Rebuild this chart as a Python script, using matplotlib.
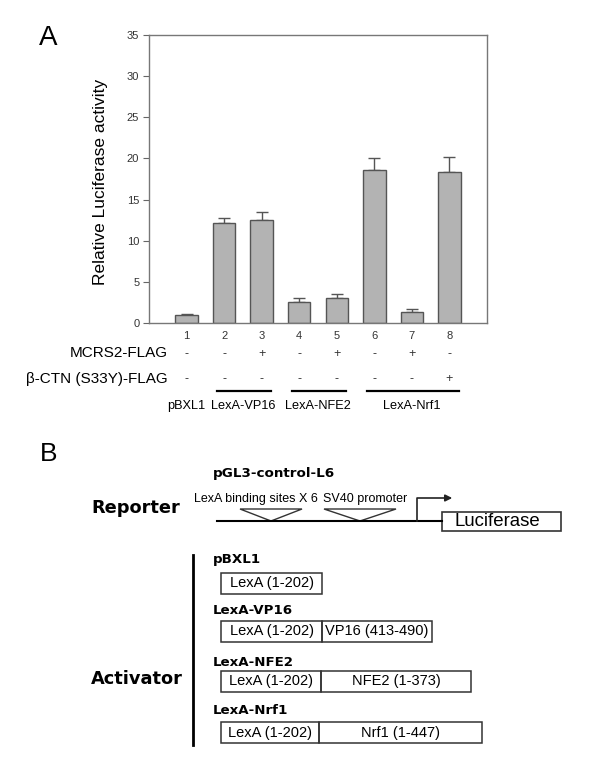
"""Luciferase reporter assay (A) and construct schematic (B)."""

import matplotlib.pyplot as plt
from matplotlib.patches import Rectangle, Polygon

# Panel A data
positions = [1, 2, 3, 4, 5, 6, 7, 8]
activity = [1.0, 12.1, 12.5, 2.6, 3.0, 18.6, 1.3, 18.4]
activity_err = [0.1, 0.6, 0.95, 0.4, 0.5, 1.4, 0.35, 1.8]
yticks = [0, 5, 10, 15, 20, 25, 30, 35]
mcrs2 = ["-", "-", "+", "-", "+", "-", "+", "-"]
bcat = ["-", "-", "-", "-", "-", "-", "-", "+"]
row_labels = ["MCRS2-FLAG", "\u03b2-CTN (S33Y)-FLAG"]
group_names = ["pBXL1", "LexA-VP16", "LexA-NFE2", "LexA-Nrf1"]
group_members = [[1], [2, 3], [4, 5], [6, 7, 8]]

# Panel B data
construct_names = ["pBXL1", "LexA-VP16", "LexA-NFE2", "LexA-Nrf1"]
construct_domains = [
    ["LexA (1-202)"],
    ["LexA (1-202)", "VP16 (413-490)"],
    ["LexA (1-202)", "NFE2 (1-373)"],
    ["LexA (1-202)", "Nrf1 (1-447)"],
]
reporter_sites = ["LexA binding sites X 6", "SV40 promoter"]

REG = ["Liberation Sans", "DejaVu Sans"]
HEAVY = ["DejaVu Sans"]
EDGE = "#555555"

fig = plt.figure(figsize=(6, 7.72), dpi=100)

# overlay in pixel coordinates for the schematic and free text
ov = fig.add_axes([0, 0, 1, 1])
ov.set_xlim(0, 600)
ov.set_ylim(772, 0)
ov.axis("off")

# ---- Panel A: bar chart ----
ax = fig.add_axes([149 / 600, 1 - 323 / 772, 338 / 600, 288 / 772])
ax.bar(positions, activity, width=0.6, color="#b3b3b3", edgecolor=EDGE, linewidth=1, zorder=2)
ax.errorbar(positions, activity, yerr=[[0] * len(activity_err), activity_err], fmt="none",
            ecolor=EDGE, elinewidth=1, capsize=4, capthick=1, zorder=1)
ax.set_xlim(0, 9)
ax.set_ylim(0, 35)
ax.set_yticks(yticks)
ax.set_xticks(positions, [str(p) for p in positions])
for lab in ax.get_xticklabels() + ax.get_yticklabels():
    lab.set_family(REG)
    lab.set_fontsize(8)
    lab.set_color("#333333")
ax.tick_params(axis="x", length=0, pad=6)
ax.tick_params(axis="y", length=4, width=0.8, color="#666666", pad=3)
for sp in ax.spines.values():
    sp.set_color("#777777")
    sp.set_linewidth(1)
ax.set_ylabel("Relative Luciferase activity", family=REG, fontsize=12.5)
ax.yaxis.set_label_coords(-0.12, 0.49)

tr = ax.get_xaxis_transform()
for p, m, b in zip(positions, mcrs2, bcat):
    ax.text(p, -0.108, m, transform=tr, ha="center", va="center", family=REG, fontsize=9,
            color="#333333", clip_on=False)
    ax.text(p, -0.194, b, transform=tr, ha="center", va="center", family=REG, fontsize=9,
            color="#333333", clip_on=False)

for name, members in zip(group_names, group_members):
    lo, hi = min(members), max(members)
    if len(members) > 1:
        ax.plot([lo - 0.2, hi + 0.25], [-0.236, -0.236], transform=tr, color="black",
                lw=1.6, clip_on=False)
    ax.text((lo + hi) / 2, -0.288, name, transform=tr, ha="center", va="center",
            family=REG, fontsize=9.2, clip_on=False)

ov.text(168, 353, row_labels[0], ha="right", va="center", family=REG, fontsize=11)
ov.text(168, 379, row_labels[1], ha="right", va="center", family=REG, fontsize=11)
ov.text(39, 38, "A", ha="left", va="center", family=REG, fontsize=20)

# ---- Panel B: schematic ----
ov.text(40, 454, "B", ha="left", va="center", family=REG, fontsize=19)
ov.text(91, 508, "Reporter", ha="left", va="center", family=HEAVY, weight="bold", fontsize=12.8)
ov.text(213, 473, "pGL3-control-L6", ha="left", va="center", family=HEAVY, weight="bold", fontsize=9.7)

ov.plot([217, 442], [521, 521], color="black", lw=1.5)
site_x = [(194, 240, 302), (323, 324, 396)]
for label, (tx, x0, x1) in zip(reporter_sites, site_x):
    ov.text(tx, 499, label, ha="left", va="center", family=REG, fontsize=9)
    ov.add_patch(Polygon([[x0, 509], [x1, 509], [(x0 + x1) / 2, 521]], closed=True,
                         fill=False, edgecolor="#333333", lw=1))
ov.plot([417, 417, 445], [521, 498, 498], color="#222222", lw=1.2)
ov.annotate("", xy=(455, 498), xytext=(443, 498),
            arrowprops=dict(arrowstyle="-|>", color="#222222", lw=1.2, mutation_scale=10))
ov.add_patch(Rectangle((442, 512), 119, 19, fill=True, facecolor="white", edgecolor="#333333", lw=1.2))
ov.text(497, 521.5, "Luciferase", ha="center", va="center", family=REG, fontsize=13.4)

ov.plot([193, 193], [555, 745], color="black", lw=2)
ov.text(91, 679, "Activator", ha="left", va="center", family=HEAVY, weight="bold", fontsize=12.8)

name_y = [559, 610, 662, 711]
box_y = [573, 621, 671, 722]
box_ends = [[322], [322, 432], [321, 471], [319, 482]]
for name, domains, ny, by, ends in zip(construct_names, construct_domains, name_y, box_y, box_ends):
    ov.text(213, ny, name, ha="left", va="center", family=HEAVY, weight="bold", fontsize=9.6)
    left = 221
    for dom, right in zip(domains, ends):
        ov.add_patch(Rectangle((left, by), right - left, 20.5, fill=False,
                               edgecolor="#333333", lw=1.1))
        ov.text((left + right) / 2, by + 10.5, dom, ha="center", va="center",
                family=REG, fontsize=10.5)
        left = right

fig.savefig("out.png", dpi=100)
